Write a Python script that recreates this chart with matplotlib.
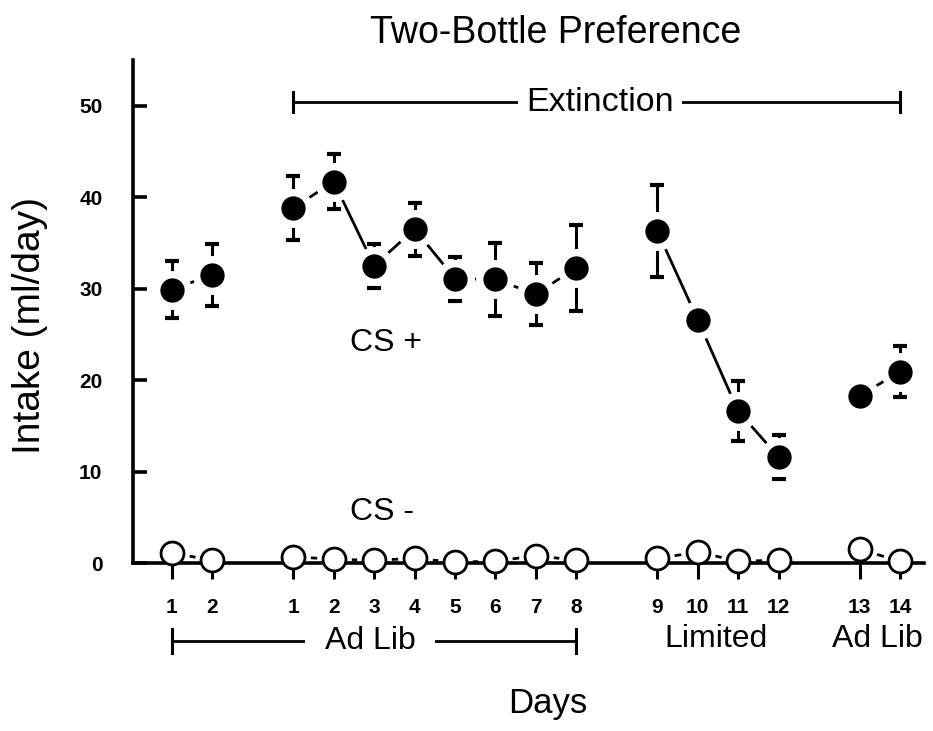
import matplotlib
matplotlib.use('Agg')
import matplotlib.pyplot as plt

plt.rcParams['font.family'] = ['Liberation Sans', 'DejaVu Sans']

# day labels and their slot on the x axis (gaps between phases)
day_labels = ['1', '2', '1', '2', '3', '4', '5', '6', '7', '8',
              '9', '10', '11', '12', '13', '14']
x_pos = [0, 1, 3, 4, 5, 6, 7, 8, 9, 10, 12, 13, 14, 15, 17, 18]

# intake (ml/day), mean and SE
cs_plus = [29.9, 31.5, 38.8, 41.7, 32.5, 36.5, 31.1, 31.0, 29.4, 32.3,
           36.3, 26.6, 16.6, 11.6, 18.3, 20.9]
cs_plus_err = [3.1, 3.4, 3.5, 3.0, 2.4, 2.9, 2.4, 4.0, 3.4, 4.7,
               5.0, 0.8, 3.3, 2.45, 0.8, 2.8]
cs_minus = [1.1, 0.3, 0.7, 0.4, 0.3, 0.5, 0.1, 0.2, 0.8, 0.3,
            0.5, 1.2, 0.2, 0.3, 1.5, 0.2]

# points joined by lines inside each phase (index ranges)
groups = [(0, 2), (2, 10), (10, 14), (14, 16)]

fig = plt.figure(figsize=(9.33, 7.31), dpi=100)
ax = fig.add_axes([0.1426, 0.2298, 0.848, 0.6882])

for a, b in groups:
    ax.plot(x_pos[a:b], cs_plus[a:b], color='k', lw=2, zorder=1)
    ax.plot(x_pos[a:b], cs_minus[a:b], color='k', lw=2, zorder=1, clip_on=False)

ax.errorbar(x_pos, cs_plus, yerr=cs_plus_err, fmt='none', ecolor='k',
            elinewidth=2.2, capsize=5, capthick=3, zorder=1)

# white halos give the gaps between lines and markers
ax.plot(x_pos, cs_plus, 'o', ms=27, color='white', zorder=3, clip_on=False)
ax.plot(x_pos, cs_minus, 'o', ms=24, color='white', zorder=3, clip_on=False)

ax.plot(x_pos, cs_plus, 'o', ms=16.5, color='k', zorder=5, clip_on=False)
ax.plot(x_pos, cs_minus, 'o', ms=16.5, mfc='white', mec='k', mew=2,
        zorder=5, clip_on=False)

ax.set_xlim(-0.96, 18.6)
ax.set_ylim(0, 55)
ax.spines['top'].set_visible(False)
ax.spines['right'].set_visible(False)
for s in ['left', 'bottom']:
    ax.spines[s].set_linewidth(2.6)
    ax.spines[s].set_zorder(4)
ax.xaxis.set_zorder(4)

ax.set_xticks(x_pos)
ax.set_xticklabels(day_labels, fontsize=15, fontweight='bold')
ax.set_yticks([0, 10, 20, 30, 40, 50])
ax.set_yticklabels(['0', '10', '20', '30', '40', '50'], fontsize=15, fontweight='bold')
ax.tick_params(axis='x', direction='out', length=11.5, width=2.2, pad=14)
ax.tick_params(axis='y', direction='in', length=10, width=2.6, pad=22)

# phase brackets
def bracket(x0, x1, y, cap):
    ax.plot([x0, x1], [y, y], color='k', lw=2, clip_on=False, zorder=2)
    ax.plot([x0, x0], [y - cap, y + cap], color='k', lw=2.2, clip_on=False, zorder=2)
    ax.plot([x1, x1], [y - cap, y + cap], color='k', lw=2.2, clip_on=False, zorder=2)

bracket(3, 18, 50.4, 1.1)
ax.text(10.58, 50.4, 'Extinction', fontsize=24.5, ha='center', va='center',
        bbox=dict(fc='white', ec='none', pad=6), zorder=3, clip_on=False)

bracket(0, 10, -8.55, 1.3)
ax.text(4.9, -8.55, 'Ad Lib', fontsize=23, ha='center', va='center',
        bbox=dict(fc='white', ec='none', pad=14), zorder=3, clip_on=False)
ax.text(13.45, -8.3, 'Limited', fontsize=23, ha='center', va='center', clip_on=False)
ax.text(17.45, -8.3, 'Ad Lib', fontsize=23, ha='center', va='center', clip_on=False)

ax.text(5.3, 24.1, 'CS +', fontsize=23, ha='center', va='center')
ax.text(5.2, 5.6, 'CS -', fontsize=23, ha='center', va='center')

fig.text(556 / 933, 1 - 33 / 731, 'Two-Bottle Preference', fontsize=27,
         ha='center', va='center')
fig.text(548 / 933, 1 - 703 / 731, 'Days', fontsize=25, ha='center', va='center')
fig.text(30 / 933, 1 - 325 / 731, 'Intake (ml/day)', fontsize=28, rotation=90,
         ha='center', va='center')

fig.savefig('out.png', dpi=100)
